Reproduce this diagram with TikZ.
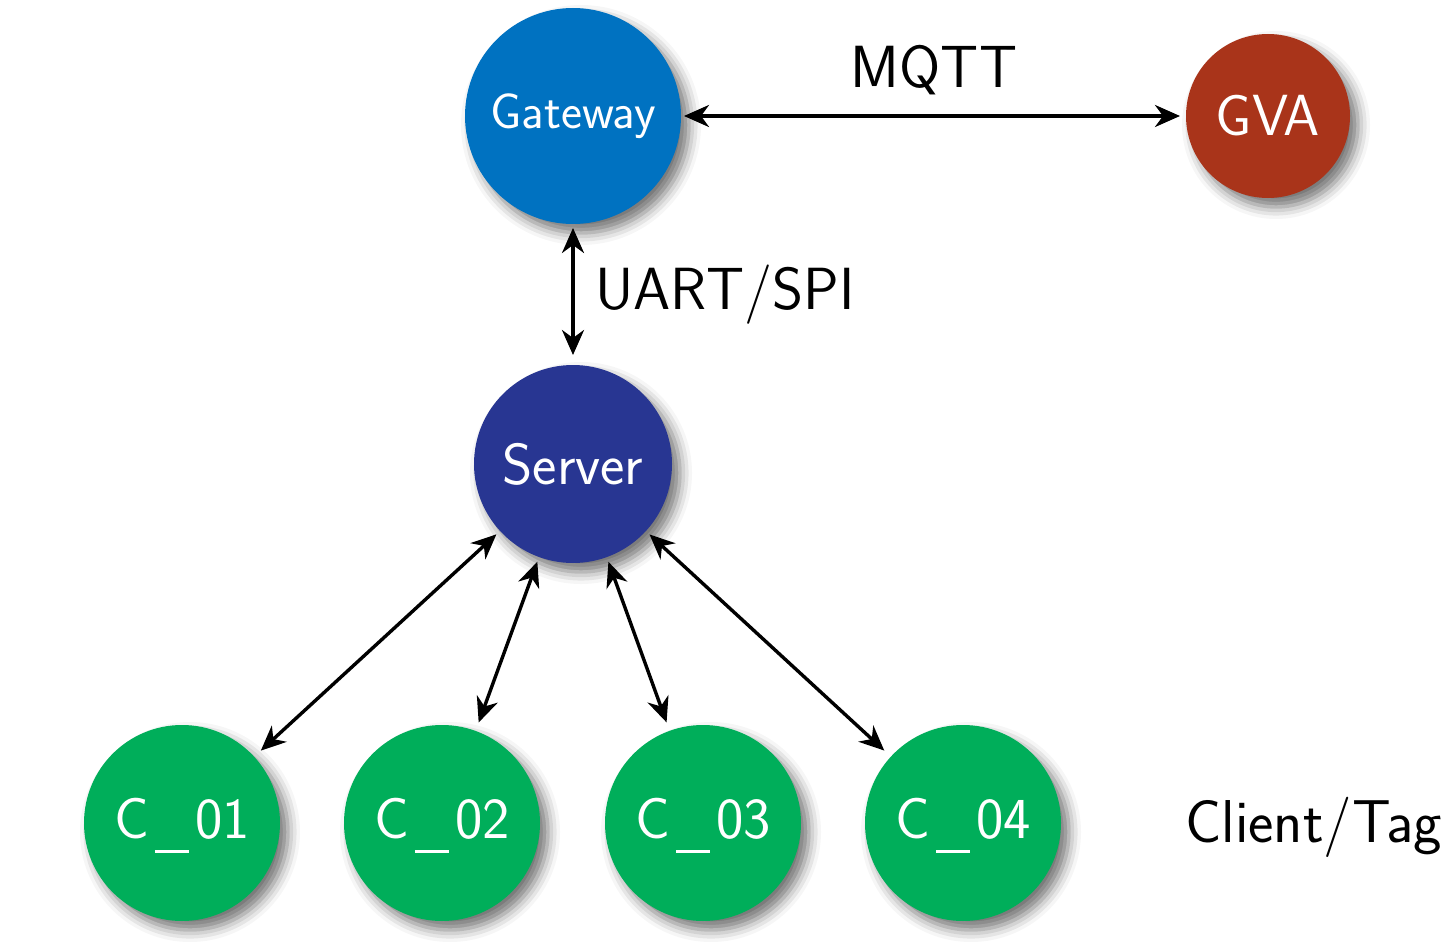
\documentclass[tikz,border=0pt]{standalone}
\usetikzlibrary{arrows.meta,shadows.blur}
\definecolor{gwblue}{RGB}{0,114,193}
\definecolor{gvared}{RGB}{169,52,26}
\definecolor{srvblue}{RGB}{40,54,146}
\definecolor{cgreen}{RGB}{0,174,90}
\newcommand{\cname}[1]{C\kern6pt\raisebox{-15pt}[0pt][10pt]{\rule{34pt}{2.7pt}}\kern6pt #1}
\tikzset{
  dev/.style={circle, draw=none, inner sep=0pt, outer sep=0pt, text=white,
    font=\sffamily\fontsize{58}{62}\selectfont,
    blur shadow={shadow xshift=8pt, shadow yshift=-9pt, shadow blur radius=12pt, shadow opacity=55}},
  link/.style={line width=3.4pt, {Stealth[length=25pt,width=22pt,inset=8pt]}-{Stealth[length=25pt,width=22pt,inset=8pt]}},
  lbl/.style={font=\sffamily\fontsize{59.5}{62}\selectfont, inner sep=0pt, text=black}
}
\begin{document}
\begin{tikzpicture}[x=1pt,y=-1pt]
\useasboundingbox (0,0) rectangle (1451,942);
\node[dev, fill=gwblue, minimum size=216pt, font=\sffamily\fontsize{50}{54}\selectfont] (gw) at (573,116) {Gateway};
\node[dev, fill=gvared, minimum size=164pt] (gva) at (1268,116) {GVA};
\node[dev, fill=srvblue, minimum size=198pt] (srv) at (573,464) {Server};
\node[dev, fill=cgreen, minimum size=196pt] (c1) at (182,823) {\cname{01}};
\node[dev, fill=cgreen, minimum size=196pt] (c2) at (442,823) {\cname{02}};
\node[dev, fill=cgreen, minimum size=196pt] (c3) at (703,823) {\cname{03}};
\node[dev, fill=cgreen, minimum size=196pt] (c4) at (963,823) {\cname{04}};
\node[lbl, anchor=base] (mqtt) at (934,88) {MQTT};
\node[lbl, anchor=base west] (uart) at (595,309) {UART/SPI};
\node[lbl, anchor=base west, font=\sffamily\fontsize{60.5}{64}\selectfont] (ct) at (1185,842) {Client/Tag};
\draw[link, shorten <=3pt, shorten >=6pt] (gw) -- (gva);
\draw[link, shorten <=4pt, shorten >=10pt] (gw) -- (srv);
\foreach \c in {c1,c2,c3,c4}{
  \draw[link, shorten <=5pt, shorten >=9pt] (srv) -- (\c);
}
\end{tikzpicture}
\end{document}
